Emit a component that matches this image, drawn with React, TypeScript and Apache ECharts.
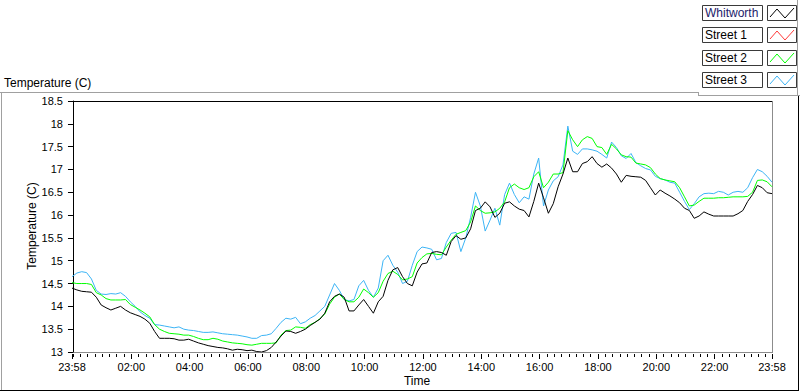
import React, { useEffect, useRef } from "react";
import * as echarts from "echarts";

// Samples every 10 minutes, starting at 23:58 (minute -2 relative to midnight)
const START_MINUTE = -2;
const STEP_MINUTES = 10;

const whitworth = [
  14.40,14.36,14.33,14.32,14.31,14.20,14.03,13.97,13.92,13.96,
  14.00,13.92,13.86,13.82,13.78,13.72,13.63,13.45,13.30,13.30,
  13.30,13.29,13.26,13.26,13.28,13.24,13.20,13.17,13.14,13.12,
  13.10,13.09,13.07,13.04,13.06,13.05,13.03,13.04,13.01,13.00,
  13.03,13.10,13.22,13.35,13.46,13.45,13.41,13.45,13.50,13.58,
  13.65,13.72,13.85,14.10,14.22,14.27,14.20,13.90,13.90,14.03,
  14.15,14.00,13.85,14.10,14.22,14.57,14.80,14.85,14.65,14.50,
  14.45,14.75,14.93,14.95,15.18,15.20,15.18,15.12,15.42,15.55,
  15.47,15.50,15.70,16.10,16.15,16.29,16.18,15.95,16.04,16.26,
  16.29,16.20,16.13,16.10,15.96,16.30,16.70,16.38,16.04,16.25,
  16.62,16.90,17.25,16.95,16.95,17.13,17.17,17.28,17.13,17.05,
  17.12,17.03,16.90,16.72,16.87,16.85,16.84,16.83,16.76,16.60,
  16.44,16.55,16.48,16.42,16.35,16.27,16.15,16.10,15.93,15.98,
  16.07,16.02,15.98,15.98,15.98,15.98,15.98,16.03,16.10,16.30,
  16.45,16.65,16.60,16.49,16.47,
];

const street1: number[] = [];

const street2 = [
  14.52,14.50,14.50,14.50,14.48,14.30,14.25,14.17,14.14,14.14,
  14.14,14.15,14.04,13.98,13.92,13.85,13.77,13.60,13.50,13.45,
  13.41,13.40,13.39,13.37,13.37,13.34,13.30,13.27,13.27,13.30,
  13.28,13.24,13.22,13.20,13.19,13.18,13.16,13.15,13.17,13.19,
  13.19,13.19,13.20,13.37,13.47,13.48,13.55,13.54,13.52,13.60,
  13.65,13.73,13.83,14.05,14.20,14.27,14.15,14.10,14.10,14.20,
  14.38,14.30,14.20,14.30,14.55,14.72,14.77,14.70,14.58,14.60,
  14.65,14.95,15.07,15.15,15.16,15.14,15.13,15.30,15.45,15.58,
  15.62,15.66,15.85,16.20,16.10,16.04,16.05,16.07,16.15,16.29,
  16.60,16.68,16.60,16.56,16.60,16.84,16.95,16.60,16.72,16.90,
  16.90,16.93,17.85,17.65,17.50,17.65,17.72,17.68,17.50,17.48,
  17.33,17.55,17.45,17.32,17.28,17.27,17.14,17.12,17.10,17.04,
  16.90,16.80,16.77,16.75,16.73,16.60,16.40,16.20,16.22,16.30,
  16.37,16.37,16.37,16.38,16.38,16.39,16.40,16.40,16.40,16.41,
  16.50,16.76,16.77,16.73,16.62,
];

const street3 = [
  14.65,14.73,14.76,14.74,14.60,14.35,14.27,14.26,14.28,14.27,
  14.30,14.22,14.10,14.00,13.88,13.80,13.74,13.60,13.59,13.57,
  13.55,13.53,13.55,13.50,13.48,13.47,13.45,13.43,13.43,13.44,
  13.42,13.40,13.39,13.38,13.37,13.35,13.33,13.30,13.30,13.36,
  13.37,13.40,13.52,13.65,13.74,13.72,13.76,13.62,13.66,13.74,
  13.80,13.90,14.00,14.25,14.50,14.35,14.15,14.12,14.15,14.45,
  14.57,14.35,14.20,14.40,15.00,15.12,14.90,14.75,14.50,14.55,
  14.90,15.20,15.30,15.28,15.25,15.02,15.05,15.40,15.60,15.62,
  15.20,15.50,15.95,16.50,16.20,15.65,15.89,16.15,15.78,16.45,
  16.70,16.45,16.27,16.40,16.35,16.90,17.25,16.20,16.55,16.75,
  16.84,17.10,17.95,17.40,17.33,17.45,17.45,17.43,17.40,17.33,
  17.25,17.60,17.48,17.30,17.24,17.35,17.15,17.08,17.02,16.99,
  16.85,16.80,16.77,16.72,16.70,16.50,16.30,16.12,16.25,16.40,
  16.47,16.48,16.47,16.52,16.50,16.44,16.50,16.52,16.50,16.60,
  16.82,17.00,16.95,16.85,16.72,
];

const seriesNames = ["Whitworth", "Street 1", "Street 2", "Street 3"];
const seriesColors = ["#000000", "#ff3a3a", "#00ff00", "#3cb4f5"];

// x tick labels (minutes relative to midnight)
const labelMinutes = [-2, 120, 240, 360, 480, 600, 720, 840, 960, 1080, 1200, 1320, 1438];
const minorTickMinutes: number[] = [];
for (let m = 0; m <= 1425; m += 15) minorTickMinutes.push(m);

const yMin = 13;
const yMax = 18.5;
const yStep = 0.5;

const FONT = "'Liberation Sans', Arial, sans-serif";

function fmtTime(m: number) {
  const t = ((m % 1440) + 1440) % 1440;
  const h = Math.floor(t / 60);
  const mm = t % 60;
  return String(h).padStart(2, "0") + ":" + String(mm).padStart(2, "0");
}

function toPairs(arr: number[]) {
  return arr.map((v, i) => [START_MINUTE + i * STEP_MINUTES, v]);
}

export default function App() {
  const ref = useRef<HTMLDivElement>(null);
  useEffect(() => {
    if (!ref.current) return;
    const chart = echarts.init(ref.current, undefined, { renderer: "svg" });

    const legendItems: any[] = [];
    seriesNames.forEach((name, i) => {
      const top = 5 + i * 22.3;
      legendItems.push({
        type: "rect",
        shape: { x: 702.5, y: Math.round(top) + 0.5, width: 60, height: 15 },
        style: { fill: "#ffffff", stroke: "#3a3a3a", lineWidth: 1 },
      });
      legendItems.push({
        type: "text",
        x: 705,
        y: Math.round(top) + 8,
        style: {
          text: name,
          fill: i === 0 ? "#1c1c6a" : "#000000",
          font: `12px ${FONT}`,
          textVerticalAlign: "middle",
        },
      });
      legendItems.push({
        type: "rect",
        shape: { x: 767.5, y: Math.round(top) + 0.5, width: 29, height: 15 },
        style: { fill: "#ffffff", stroke: "#3a3a3a", lineWidth: 1 },
      });
      const by = Math.round(top);
      legendItems.push({
        type: "polyline",
        shape: {
          points: [
            [770, by + 12],
            [777, by + 4],
            [785, by + 13],
            [794, by + 3],
          ],
        },
        style: { stroke: seriesColors[i], lineWidth: 1, fill: "none" },
      });
    });

    const frame: any[] = [
      // outer panel
      { type: "line", shape: { x1: 0, y1: 92.5, x2: 698, y2: 92.5 }, style: { stroke: "#a0a0a0", lineWidth: 1 } },
      { type: "line", shape: { x1: 698.5, y1: 92, x2: 698.5, y2: 95.5 }, style: { stroke: "#a0a0a0", lineWidth: 1 } },
      { type: "line", shape: { x1: 698, y1: 95.5, x2: 800, y2: 95.5 }, style: { stroke: "#a0a0a0", lineWidth: 1 } },
      { type: "line", shape: { x1: 797.5, y1: 0, x2: 797.5, y2: 95.5 }, style: { stroke: "#a0a0a0", lineWidth: 1 } },
      { type: "line", shape: { x1: 1.5, y1: 92.5, x2: 1.5, y2: 390 }, style: { stroke: "#a0a0a0", lineWidth: 1 } },
      { type: "line", shape: { x1: 0, y1: 390.5, x2: 799, y2: 390.5 }, style: { stroke: "#000000", lineWidth: 1 } },
      { type: "line", shape: { x1: 798.5, y1: 96, x2: 798.5, y2: 391 }, style: { stroke: "#000000", lineWidth: 1 } },
      // plot frame
      { type: "line", shape: { x1: 72, y1: 101.5, x2: 772.5, y2: 101.5 }, style: { stroke: "#000000", lineWidth: 1 } },
      { type: "line", shape: { x1: 772.5, y1: 101.5, x2: 772.5, y2: 353 }, style: { stroke: "#8c8c8c", lineWidth: 1 } },
      { type: "line", shape: { x1: 72.5, y1: 352.5, x2: 773, y2: 352.5 }, style: { stroke: "#8c8c8c", lineWidth: 1 } },
      // titles
      {
        type: "text",
        x: 4,
        y: 83,
        style: { text: "Temperature (C)", fill: "#000", font: `12px ${FONT}`, textVerticalAlign: "middle" },
      },
      {
        type: "text",
        x: 32,
        y: 226,
        rotation: Math.PI / 2,
        style: {
          text: "Temperature (C)",
          fill: "#000",
          font: `12px ${FONT}`,
          textAlign: "center",
          textVerticalAlign: "middle",
        },
      },
      {
        type: "text",
        x: 417,
        y: 381,
        style: {
          text: "Time",
          fill: "#000",
          font: `12px ${FONT}`,
          textAlign: "center",
          textVerticalAlign: "middle",
        },
      },
    ];

    const lineSeries = (idx: number, data: number[], z: number) => ({
      name: seriesNames[idx],
      type: "line",
      xAxisIndex: 0,
      yAxisIndex: 0,
      data: toPairs(data),
      showSymbol: false,
      symbol: "none",
      z,
      lineStyle: { color: seriesColors[idx], width: 1 },
      itemStyle: { color: seriesColors[idx] },
    });

    chart.setOption({
      animation: false,
      backgroundColor: "#ffffff",
      textStyle: { fontFamily: FONT },
      grid: { left: 72, top: 101, width: 700, height: 251, containLabel: false },
      xAxis: [
        {
          type: "value",
          min: -2,
          max: 1438,
          offset: 2,
          axisLine: { show: false },
          splitLine: { show: false },
          axisTick: {
            show: true,
            customValues: labelMinutes,
            length: 5,
            lineStyle: { color: "#000", width: 1 },
          },
          axisLabel: {
            customValues: labelMinutes,
            formatter: (v: number) => fmtTime(v),
            color: "#000",
            fontSize: 11,
            fontFamily: FONT,
            margin: 7,
            showMinLabel: true,
            showMaxLabel: true,
          },
        },
        {
          type: "value",
          min: -2,
          max: 1438,
          offset: 2,
          position: "bottom",
          axisLine: { show: false },
          splitLine: { show: false },
          axisLabel: { show: false },
          axisTick: {
            show: true,
            customValues: minorTickMinutes,
            length: 3,
            lineStyle: { color: "#000", width: 1 },
          },
        },
      ],
      yAxis: {
        type: "value",
        min: yMin,
        max: yMax,
        interval: yStep,
        axisLine: { show: true, lineStyle: { color: "#000", width: 1 } },
        axisTick: { show: true, length: 5, lineStyle: { color: "#000" } },
        splitLine: { show: false },
        axisLabel: {
          color: "#000",
          fontSize: 11,
          fontFamily: FONT,
          margin: 9,
          showMinLabel: true,
          showMaxLabel: true,
        },
      },
      series: [
        lineSeries(3, street3, 2),
        lineSeries(1, street1, 3),
        lineSeries(2, street2, 4),
        lineSeries(0, whitworth, 5),
      ],
      graphic: [...frame, ...legendItems],
    });

    return () => chart.dispose();
  }, []);

  return <div ref={ref} style={{ width: 800, height: 392, position: "absolute", left: 0, top: 0 }} />;
}
